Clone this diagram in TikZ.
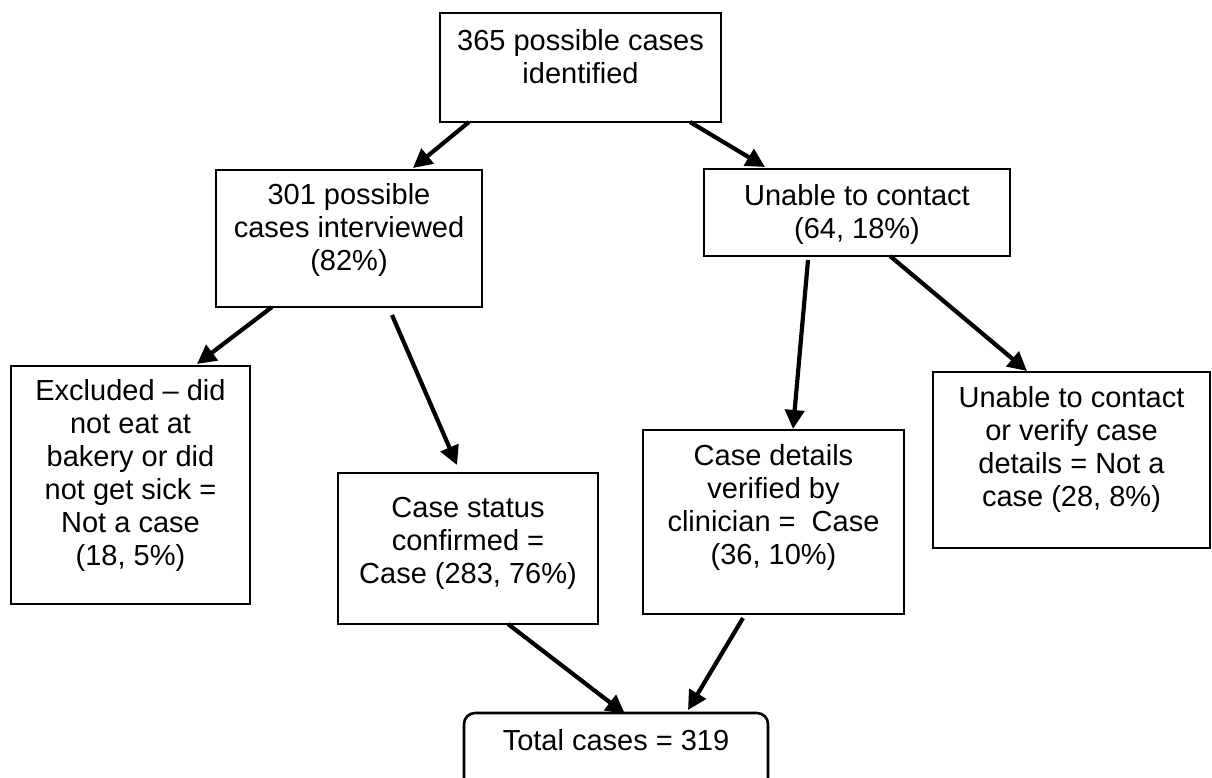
\documentclass[tikz,border=0pt]{standalone}
\usepackage{fontspec}
\setmainfont{Liberation Sans}
\usetikzlibrary{arrows.meta}
\newcommand\bxtext[4]{\parbox[t][#2][t]{#1}{\centering\vspace*{#3}#4\par}}
\begin{document}
\begin{tikzpicture}[x=1pt,y=-1pt,
  bx/.style={draw=black, line width=2.6pt, inner sep=0pt, outer sep=0pt, anchor=north west,
    font=\fontsize{29}{33}\selectfont},
  arr/.style={line width=4.2pt, -{Triangle[length=19pt,width=19pt]}}]
\path[use as bounding box, clip] (0,0) rectangle (1212,778);
% boxes: (x1,y1), width, height
\node[bx] (b1) at (440,13) {\bxtext{281pt}{109pt}{16pt}{365 possible cases\\identified}};
\node[bx] (b2) at (216,170) {\bxtext{266pt}{137pt}{13pt}{301 possible\\cases interviewed\\(82\%)}};
\node[bx] (b3) at (704,169) {\bxtext{306pt}{87pt}{15pt}{Unable to contact\\(64, 18\%)}};
\node[bx] (b4) at (11,366) {\bxtext{239pt}{238pt}{13pt}{Excluded -- did\\not eat at\\bakery or did\\not get sick =\\Not a case\\(18, 5\%)}};
\node[bx] (b5) at (338,473) {\bxtext{260pt}{151pt}{24pt}{Case status\\confirmed =\\Case (283, 76\%)}};
\node[bx] (b6) at (643,430) {\bxtext{261pt}{184pt}{14pt}{Case details\\verified by\\clinician =~~Case\\(36, 10\%)}};
\node[bx] (b7) at (933,372) {\bxtext{277pt}{176pt}{14pt}{Unable to contact\\or verify case\\details = Not a\\case (28, 8\%)}};
\node[bx, rounded corners=11pt] (b8) at (464,713) {\bxtext{304pt}{90pt}{16pt}{Total cases = 319}};
% arrows
\draw[arr] ([xshift=29pt]b1.south west) -- ([xshift=197pt,yshift=2pt]b2.north west);
\draw[arr] ([xshift=250pt]b1.south west) -- ([xshift=61pt,yshift=2pt]b3.north west);
\draw[arr] ([xshift=56pt]b2.south west) -- ([xshift=186pt,yshift=2pt]b4.north west);
\draw[arr] ([xshift=176pt,yshift=-8pt]b2.south west) -- ([xshift=119pt,yshift=8pt]b5.north west);
\draw[arr] ([xshift=104pt,yshift=-4pt]b3.south west) -- ([xshift=150pt,yshift=1pt]b6.north west);
\draw[arr] ([xshift=186pt]b3.south west) -- ([xshift=94pt,yshift=1pt]b7.north west);
\draw[arr] ([xshift=170pt]b5.south west) -- ([xshift=161pt,yshift=-1pt]b8.north west);
\draw[arr] ([xshift=100pt,yshift=-4pt]b6.south west) -- ([xshift=224pt,yshift=3pt]b8.north west);
\end{tikzpicture}
\end{document}
